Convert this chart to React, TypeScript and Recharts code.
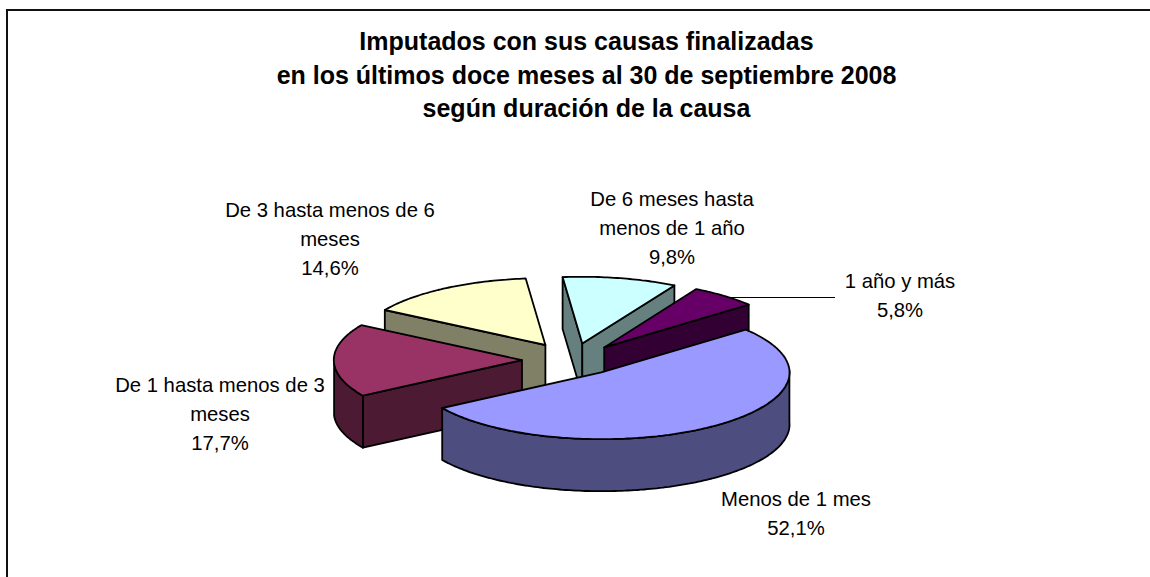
import React from "react";
import { PieChart, Pie } from "recharts";

const categories = ["1 año y más", "De 6 meses hasta menos de 1 año", "De 3 hasta menos de 6 meses", "De 1 hasta menos de 3 meses", "Menos de 1 mes"];
const values = [5.8, 9.8, 14.6, 17.7, 52.1];
const valueLabels = ["5,8%", "9,8%", "14,6%", "17,7%", "52,1%"];
const labelLines = [["1 año y más"], ["De 6 meses hasta", "menos de 1 año"], ["De 3 hasta menos de 6", "meses"], ["De 1 hasta menos de 3", "meses"], ["Menos de 1 mes"]];
const topColors = ["#660066", "#CCFFFF", "#FFFFCC", "#993366", "#9999FF"];
const wallColors = ["#330033", "#668080", "#808066", "#4D1A33", "#4D4D80"];
const titleLines = ["Imputados con sus causas finalizadas", "en los últimos doce meses al 30 de septiembre 2008", "según duración de la causa"];
const titleBaselines = [50, 84, 116.5];

const W = 1150, H = 577;
const FONT = "'Liberation Sans', Arial, sans-serif";
const SQUASH = 0.355, EXPLODE = 50, DEPTH = 52;
const SHEAR_X = 0.14, SHEAR_Y = 0.017, SHEAR_ORIGIN: [number, number] = [570, 345];
const NUDGE_Y = [3, 3, 2, 2, 0];
const LABEL_BASE: [number, number][] = [[900, 288], [672, 206], [330, 217], [220, 392], [796, 506]];
const LABEL_LH = 29;

const rad = (d: number) => (d * Math.PI) / 180;
const warp = (x: number, y: number): [number, number] => [
  x + SHEAR_X * (y - SHEAR_ORIGIN[1]),
  y - SHEAR_Y * (x - SHEAR_ORIGIN[0]),
];

function Slice3D(props: any) {
  const { cx, cy, outerRadius: r, startAngle, endAngle } = props;
  const idx = categories.indexOf(props.name ?? props.payload?.name);
  const s = -Math.max(startAngle, endAngle);
  const e = -Math.min(startAngle, endAngle);
  const mid = (s + e) / 2;
  const ox = cx + EXPLODE * Math.cos(rad(mid));
  const oy = cy + EXPLODE * SQUASH * Math.sin(rad(mid)) + NUDGE_Y[idx];
  const pt = (a: number): [number, number] => warp(ox + r * Math.cos(rad(a)), oy + r * SQUASH * Math.sin(rad(a)));
  const poly = (pts: [number, number][]) => "M" + pts.map((p) => p[0].toFixed(1) + " " + p[1].toFixed(1)).join("L") + "Z";
  const down = (p: [number, number]): [number, number] => [p[0], p[1] + DEPTH];
  const center = warp(ox, oy);
  const arcAngles: number[] = [];
  const n = Math.ceil(e - s);
  for (let i = 0; i <= n; i++) arcAngles.push(s + ((e - s) * i) / n);
  const walls: string[] = [];
  const stroke = { stroke: "#000", strokeWidth: 1.8, strokeLinejoin: "round" as const };
  const radial = (a: number, nx: number) => {
    if (Math.sin(rad(nx)) > 0) {
      walls.push(poly([center, pt(a), down(pt(a)), down(center)]));
    }
  };
  radial(s, s - 90);
  radial(e, e + 90);
  let seg: number[] = [];
  const flush = () => {
    if (seg.length > 1) {
      const top = seg.map(pt);
      walls.push(poly([...top, ...[...top].reverse().map(down)]));
    }
    seg = [];
  };
  arcAngles.forEach((a) => {
    if (Math.sin(rad(a)) > 0) seg.push(a);
    else flush();
  });
  flush();
  const top = poly([center, ...arcAngles.map(pt)]);
  return (
    <g>
      {walls.map((d, i) => (
        <path key={i} d={d} fill={wallColors[idx]} {...stroke} />
      ))}
      <path d={top} fill={topColors[idx]} {...stroke} />
    </g>
  );
}

function SliceLabel(props: any) {
  const i = categories.indexOf(props.name ?? props.payload?.name);
  const [x, y] = LABEL_BASE[i];
  const lines = [...labelLines[i], valueLabels[i]];
  return (
    <g>
      {i === 0 && <line x1={727} y1={297.5} x2={835} y2={297.5} stroke="#000" strokeWidth={1} />}
      <text x={x} textAnchor="middle" fontFamily={FONT} fontSize={20.3} fill="#000">
        {lines.map((l, k) => (
          <tspan key={k} x={x} y={y + k * LABEL_LH}>
            {l}
          </tspan>
        ))}
      </text>
    </g>
  );
}

const rows = categories.map((name, i) => ({ name, value: values[i] }));
const backRows = [rows[1], rows[0]];
const frontRows = [rows[2], rows[3], rows[4]];
const SPLIT_ANGLE = 37 + ((values[0] + values[1]) / 100) * 360;

const pieBase = {
  dataKey: "value",
  nameKey: "name",
  cx: 570,
  cy: 358,
  outerRadius: 188,
  paddingAngle: 0,
  isAnimationActive: false,
  shape: Slice3D as any,
  label: SliceLabel as any,
  labelLine: false,
  rootTabIndex: -1,
};

export default function App() {
  return (
    <div style={{ position: "absolute", left: 0, top: 0, width: W, height: H, overflow: "hidden", background: "#fff" }}>
      <div style={{ position: "absolute", left: 6, top: 9, width: 1200, height: 700, border: "2px solid #111", boxSizing: "border-box" }} />
      <div style={{ position: "absolute", left: 0, top: 0 }}>
        <PieChart width={W} height={H} margin={{ top: 0, right: 0, bottom: 0, left: 0 }}>
          <text textAnchor="middle" fontFamily={FONT} fontSize={25} fontWeight="bold" fill="#000">
            {titleLines.map((l, i) => (
              <tspan key={i} x={586.5} y={titleBaselines[i]}>
                {l}
              </tspan>
            ))}
          </text>
          <Pie {...pieBase} data={backRows} startAngle={SPLIT_ANGLE} endAngle={37} />
          <Pie {...pieBase} data={frontRows} startAngle={SPLIT_ANGLE} endAngle={397} />
        </PieChart>
      </div>
    </div>
  );
}
